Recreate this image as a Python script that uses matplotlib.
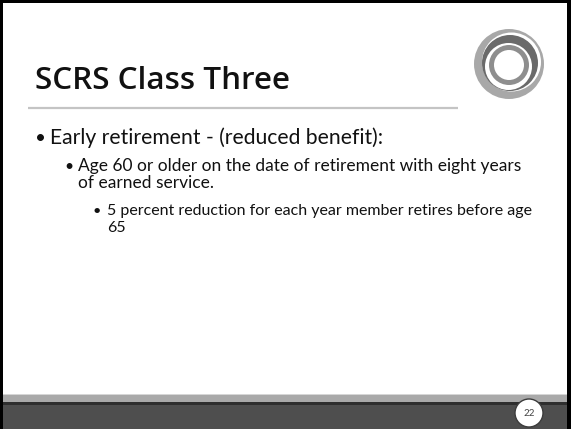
import matplotlib.pyplot as plt
from matplotlib.patches import Circle, Rectangle

W, H = 571, 429

# slide content
title_text = "SCRS Class Three"
item_levels = [1, 2, 3]
item_lines = [
    ["Early retirement - (reduced benefit):"],
    ["Age 60 or older on the date of retirement with eight years",
     "of earned service."],
    ["5 percent reduction for each year member retires before age",
     "65"],
]
page_number = "22"

# layout per level (pixels): bullet x, text x, first baseline, line width
bullet_x = {1: 35, 2: 64, 3: 92}
text_x = {1: 50, 2: 78, 3: 107}
first_baseline = {1: 144, 2: 170.7, 3: 214.7}
line_width = {1: 333, 2: 445, 3: 429}
line_step = 17.8

BODY_FONT = "Lato"
TITLE_FONT = "Open Sans"

fig = plt.figure(figsize=(W / 100, H / 100), dpi=100)
ax = fig.add_axes([0, 0, 1, 1])
ax.set_xlim(0, W)
ax.set_ylim(H, 0)
ax.axis("off")
renderer = fig.canvas.get_renderer()


def fit_size(text, width_px, family, weight="normal", ref=20.0):
    t = ax.text(0, 0, text, fontsize=ref, family=family, weight=weight)
    w = t.get_window_extent(renderer).width
    t.remove()
    return ref * width_px / w


# frame
ax.add_patch(Rectangle((0, 0), W, H, facecolor="white", edgecolor="none", zorder=0))
ax.add_patch(Rectangle((0, 0), W, 3, facecolor="black", zorder=5))
ax.add_patch(Rectangle((0, 0), 3, H, facecolor="black", zorder=5))
ax.add_patch(Rectangle((W - 4, 0), 4, H, facecolor="black", zorder=5))

# footer bar
ax.add_patch(Rectangle((0, 394), W, 1, facecolor="#d6d6d6", zorder=1))
ax.add_patch(Rectangle((0, 395), W, 7, facecolor="#a9a9a9", zorder=1))
ax.add_patch(Rectangle((0, 402), W, 3, facecolor="#2e2e2e", zorder=1))
ax.add_patch(Rectangle((0, 405), W, H - 405, facecolor="#4e4e4e", zorder=1))

ax.add_patch(Circle((529, 413), 14, facecolor="white", edgecolor="#3c3c3c",
                    linewidth=1.0, zorder=3))
ax.text(529, 413.5, page_number, fontsize=7, family=BODY_FONT, color="#444444",
        ha="center", va="center", zorder=4)

# logo rings
cx, cy = 509, 64
ax.add_patch(Circle((cx, cy), 35, facecolor="#a8a8a8", edgecolor="none", zorder=2))
ax.add_patch(Circle((cx + 2.5, cy - 2.0), 29.5, facecolor="white", edgecolor="none", zorder=2))
ax.add_patch(Circle((cx + 1.0, cy - 1.0), 28, facecolor="#6a6a6a", edgecolor="none", zorder=2))
ax.add_patch(Circle((cx - 0.5, cy + 2.5), 23.5, facecolor="white", edgecolor="none", zorder=2))
ax.add_patch(Circle((cx, cy + 1), 20, facecolor="#8e8e8e", edgecolor="none", zorder=2))
ax.add_patch(Circle((cx, cy + 1), 15, facecolor="white", edgecolor="none", zorder=2))

# title and rule
title_size = fit_size(title_text, 255, TITLE_FONT, weight="semibold")
ax.text(35, 89.3, title_text, fontsize=title_size, family=TITLE_FONT,
        weight="semibold", color="#111111", ha="left", va="baseline", zorder=3)
ax.plot([28, 458], [108, 108], color="#c4c4c4", linewidth=1.6,
        solid_capstyle="butt", zorder=3)

# bullet list
for level, lines in zip(item_levels, item_lines):
    size = fit_size(lines[0], line_width[level], BODY_FONT)
    y0 = first_baseline[level]
    ax.text(bullet_x[level], y0, "\u2022", fontsize=size * 0.9, family=BODY_FONT,
            color="#111111", ha="left", va="baseline", zorder=3)
    for k, line in enumerate(lines):
        ax.text(text_x[level], y0 + k * line_step, line, fontsize=size,
                family=BODY_FONT, color="#111111", ha="left", va="baseline", zorder=3)

fig.savefig("out.png", dpi=100)
